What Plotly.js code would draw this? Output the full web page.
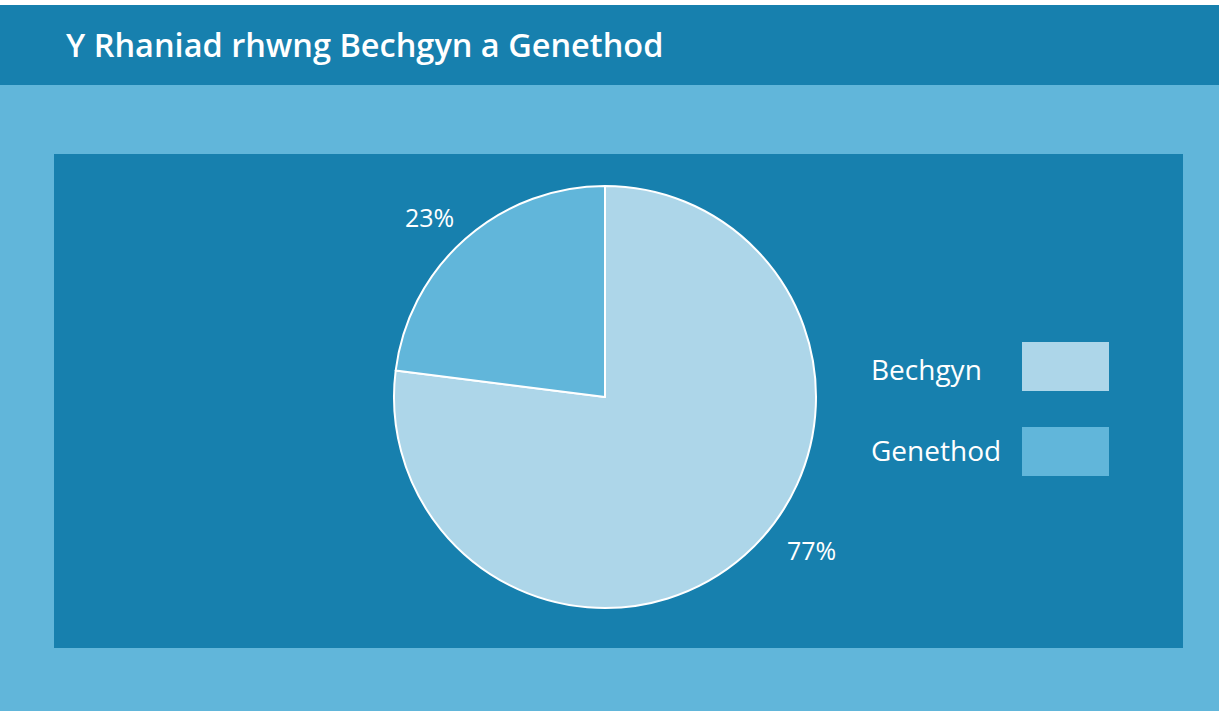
<!DOCTYPE html>
<html>
<head>
<meta charset="utf-8">
<script src="https://cdn.plot.ly/plotly-3.0.1.min.js"></script>
<style>html,body{margin:0;padding:0;background:#fff;}#chart{width:1219px;height:711px;}</style>
</head>
<body>
<div id="chart"></div>
<script>
const categories = ["Bechgyn", "Genethod"];
const values = [77, 23];
const sliceColors = ["#ADD6E9", "#61B6DA"];
const chartTitle = "Y Rhaniad rhwng Bechgyn a Genethod";

const W = 1219, H = 711;
const px = x => x / W;
const py = y => 1 - y / H;

const DARK = "#1780AE", LIGHT = "#61B6DA";
const FONT = "Open Sans, Lato, sans-serif";

const total = values.reduce((a, b) => a + b, 0);
const pct = values.map(v => Math.round(v / total * 100) + "%");

// label positions (layout only)
const labelPos = [[811, 550], [429, 217]];
const legendText = [369, 450];
const legendSwatch = [[342, 391], [427, 476]];

const shapes = [
  {type: "rect", xref: "paper", yref: "paper", x0: 0, x1: 1, y0: py(5), y1: 1, fillcolor: "#ffffff", line: {width: 0}, layer: "below"},
  {type: "rect", xref: "paper", yref: "paper", x0: 0, x1: 1, y0: py(85), y1: py(5), fillcolor: DARK, line: {width: 0}, layer: "below"},
  {type: "rect", xref: "paper", yref: "paper", x0: px(54), x1: px(1183), y0: py(648), y1: py(154), fillcolor: DARK, line: {width: 0}, layer: "below"}
];
const annotations = [];
categories.forEach((c, i) => {
  shapes.push({type: "rect", xref: "paper", yref: "paper", x0: px(1022), x1: px(1109),
    y0: py(legendSwatch[i][1]), y1: py(legendSwatch[i][0]), fillcolor: sliceColors[i], line: {width: 0}});
  annotations.push({xref: "paper", yref: "paper", x: px(869), y: py(legendText[i]), xanchor: "left", yanchor: "middle",
    text: c, showarrow: false, font: {family: FONT, size: 28, color: "#ffffff"}});
  annotations.push({xref: "paper", yref: "paper", x: px(labelPos[i][0]), y: py(labelPos[i][1]), xanchor: "center", yanchor: "middle",
    text: pct[i], showarrow: false, font: {family: FONT, size: 25, color: "#ffffff"}});
});

const data = [{
  type: "pie",
  labels: categories,
  values: values,
  sort: false,
  direction: "clockwise",
  rotation: 0,
  textinfo: "none",
  hoverinfo: "label+percent",
  marker: {colors: sliceColors, line: {color: "#ffffff", width: 2}},
  domain: {x: [px(394), px(816)], y: [py(608), py(186)]},
  showlegend: false
}];

const layout = {
  width: W, height: H,
  margin: {l: 0, r: 0, t: 0, b: 0},
  paper_bgcolor: LIGHT,
  showlegend: false,
  title: {text: chartTitle, x: px(66), xanchor: "left", xref: "paper", y: py(46), yanchor: "middle", yref: "paper",
    font: {family: FONT, size: 32.5, weight: 600, color: "#ffffff"}},
  shapes: shapes,
  annotations: annotations
};

Plotly.newPlot("chart", data, layout, {displayModeBar: false, staticPlot: true});
</script>
</body>
</html>
